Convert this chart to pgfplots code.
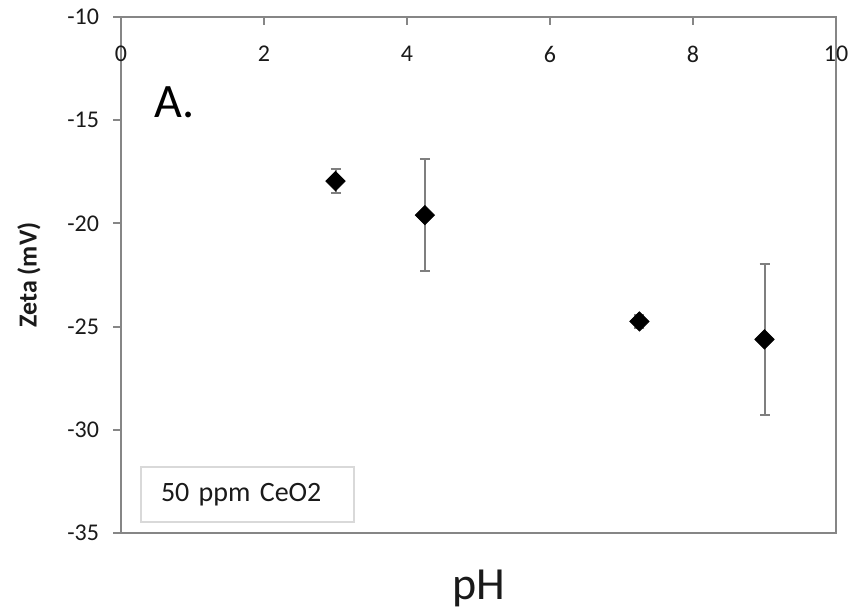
\documentclass[border=0pt]{standalone}
\usepackage{fontspec}
\setmainfont{Carlito}
\usepackage{pgfplots}
\pgfplotsset{compat=1.18}
\definecolor{axgray}{HTML}{868686}
\definecolor{errgray}{HTML}{7F7F7F}
\definecolor{boxgray}{HTML}{D9D9D9}
\definecolor{txt}{HTML}{1A1A1A}
\begin{document}
\begin{tikzpicture}
\begin{axis}[
  scale only axis, width=357.5pt, height=258pt,
  xmin=0, xmax=10, ymin=-35, ymax=-10,
  axis line style={axgray, line width=1pt},
  xtick={0,2,4,6,8,10}, xticklabels={0,2,4,6,8,10},
  ytick={-35,-30,-25,-20,-15,-10}, yticklabels={-35,-30,-25,-20,-15,-10},
  xtick pos=right, xticklabel pos=right,
  ytick pos=left,
  xtick align=inside, ytick align=outside,
  major tick length=4pt,
  tick style={axgray, line width=1pt},
  xticklabel style={anchor=north, yshift=-11pt, font=\fontsize{12}{14}\selectfont, text=txt},
  yticklabel style={xshift=-3.5pt, font=\fontsize{12}{14}\selectfont, text=txt},
  xlabel={pH},
  every axis x label/.style={at={(axis description cs:0.5,0)}, anchor=center, yshift=-27.5pt, font=\fontsize{23}{27}\selectfont, text=txt},
  ylabel={Zeta (mV)},
  every axis y label/.style={at={(axis description cs:-0.1287,0.5)}, rotate=90, anchor=center, font=\bfseries\fontsize{13}{15}\selectfont, text=txt},
  clip=false,
]
\addplot[only marks, mark=square*, mark size=3.4pt,
  mark options={rotate=45, fill=black, draw=black},
  error bars/.cd, y dir=both, y explicit,
  error bar style={errgray, line width=1pt},
  error mark options={rotate=90, errgray, mark size=2.5pt, line width=1pt}]
  table[x=x, y=y, y error=e]{
x y e
3 -17.95 0.6
4.25 -19.6 2.73
7.25 -24.75 0.3
9 -25.62 3.67
};
\node[font=\fontsize{24}{28}\selectfont, text=black] at (axis cs:0.755,-14.12) {A.};
\node[draw=boxgray, line width=1pt, anchor=south west, minimum width=106.5pt, minimum height=27.5pt,
  inner xsep=10pt, align=left, text width=86.5pt, font=\fontsize{14}{16}\selectfont, text=txt]
  at (axis cs:0.266,-34.52) {50 ppm CeO2};
\end{axis}
\pgfresetboundingbox
\path ([shift={(-60.5pt,-39pt)}]current axis.south west) rectangle ([shift={(9pt,8.5pt)}]current axis.north east);
\end{tikzpicture}
\end{document}
